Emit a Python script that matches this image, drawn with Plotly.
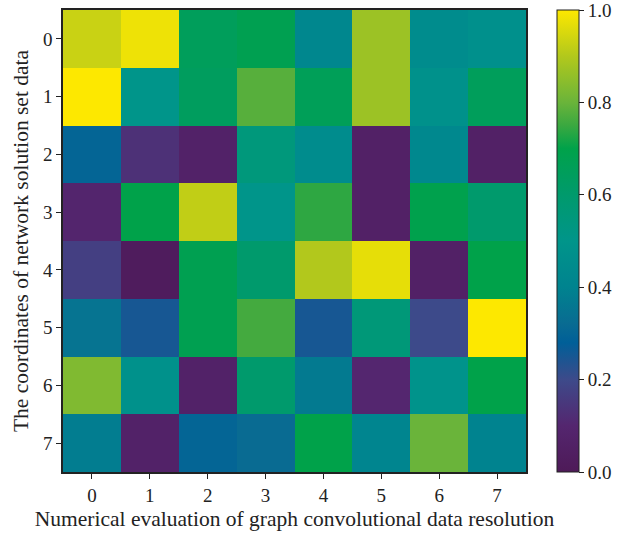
import plotly.graph_objects as go

# Matrix values (rows = network solution set coordinate, cols = resolution index)
row_labels = [0, 1, 2, 3, 4, 5, 6, 7]
col_labels = [0, 1, 2, 3, 4, 5, 6, 7]

row0 = [0.93, 0.98, 0.65, 0.68, 0.42, 0.87, 0.45, 0.47]
row1 = [1.00, 0.50, 0.64, 0.78, 0.66, 0.87, 0.48, 0.65]
row2 = [0.30, 0.13, 0.07, 0.55, 0.45, 0.06, 0.43, 0.06]
row3 = [0.09, 0.70, 0.92, 0.50, 0.74, 0.06, 0.69, 0.60]
row4 = [0.17, 0.02, 0.68, 0.60, 0.90, 0.97, 0.06, 0.70]
row5 = [0.35, 0.25, 0.68, 0.76, 0.25, 0.56, 0.20, 1.00]
row6 = [0.83, 0.48, 0.07, 0.60, 0.37, 0.10, 0.49, 0.70]
row7 = [0.38, 0.07, 0.30, 0.32, 0.70, 0.41, 0.80, 0.40]

z = [row0, row1, row2, row3, row4, row5, row6, row7]

colorscale = [
    [0.00, "#4e1a58"],
    [0.10, "#54266f"],
    [0.20, "#3d4a8a"],
    [0.28, "#005f98"],
    [0.32, "#096b92"],
    [0.40, "#00838f"],
    [0.50, "#00958a"],
    [0.60, "#009a6c"],
    [0.70, "#00a24a"],
    [0.75, "#3aa840"],
    [0.80, "#6ab43a"],
    [0.90, "#b2c81c"],
    [1.00, "#fde800"],
]

font_family = "Liberation Serif, DejaVu Serif, serif"
ink = "#222222"

fig = go.Figure(
    go.Heatmap(
        z=z,
        x=col_labels,
        y=row_labels,
        zmin=0,
        zmax=1,
        colorscale=colorscale,
        colorbar=dict(
            x=1.067,
            xanchor="left",
            xpad=0,
            y=0.5,
            yanchor="middle",
            ypad=0,
            len=1,
            lenmode="fraction",
            thickness=22,
            thicknessmode="pixels",
            outlinecolor=ink,
            outlinewidth=1,
            ticks="outside",
            ticklen=5,
            tickcolor=ink,
            tickvals=[0, 0.2, 0.4, 0.6, 0.8, 1.0],
            tickformat=".1f",
            ticklabeloverflow="allow",
            tickfont=dict(family=font_family, size=19, color=ink),
        ),
    )
)

axis_common = dict(
    showgrid=False,
    zeroline=False,
    showline=True,
    linecolor=ink,
    linewidth=1.5,
    mirror=True,
    ticks="outside",
    ticklen=5,
    tickcolor=ink,
    tickfont=dict(family=font_family, size=19, color=ink),
    title_font=dict(family=font_family, size=21.5, color=ink),
)

fig.update_xaxes(
    **axis_common,
    tickvals=col_labels,
    range=[-0.5, 7.5],
    title_text="Numerical evaluation of graph convolutional data resolution",
    title_standoff=6,
)
fig.update_yaxes(
    **axis_common,
    tickvals=row_labels,
    range=[7.5, -0.5],
    title_text="The coordinates of network solution set data",
    title_standoff=8,
)

fig.update_layout(
    width=621,
    height=539,
    margin=dict(l=63, r=95, t=10, b=67, autoexpand=False),
    paper_bgcolor="white",
    plot_bgcolor="white",
    font=dict(family=font_family, color=ink),
)

fig.write_html("out.html")
